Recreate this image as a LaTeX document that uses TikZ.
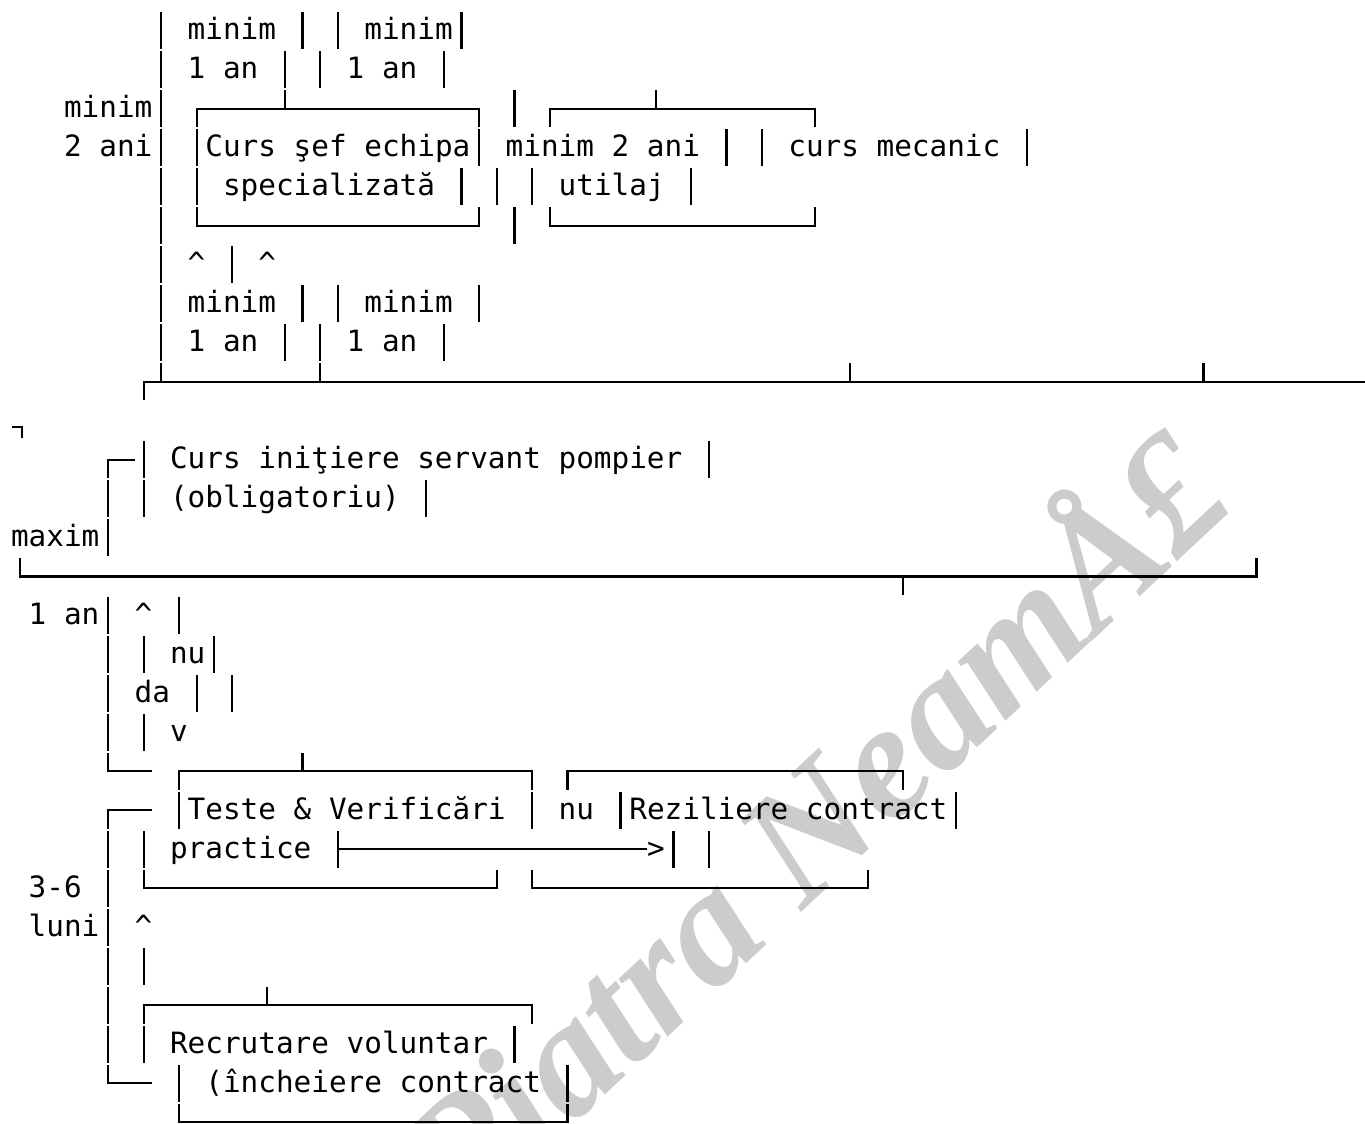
\documentclass[tikz,border=0pt]{standalone}
\usepackage{fontspec}
\newfontfamily\mono{DejaVu Sans Mono}
\newfontfamily\marca{Liberation Serif}

\tikzset{
  linea/.style={line width=1.05pt},
  txt/.style={anchor=base west, inner sep=0pt, outer sep=0pt,
    font=\mono\fontsize{14.67pt}{17pt}\selectfont},
}
\newcommand{\bh}{0.47}

\begin{document}
\begin{tikzpicture}[x=8.8325pt, y=-19.49pt]
    % Marco de la imagen (columnas y filas de texto)
    \useasboundingbox (-1.1265,-0.79) rectangle (76.145,28.045);
    \clip (-1.1265,-0.79) rectangle (76.145,28.045);

    % Marca de agua
    \node[rotate=43, anchor=base west, inner sep=0pt, text=black!20,
        font=\marca\bfseries\itshape\fontsize{82.5pt}{88pt}\selectfont]
        (marca) at (25.12,30.69) {Piatra NeamÅ£};

    % Barras verticales
    \foreach \x/\y in {8/0,16/0,18/0,25/0, 8/1,15/1,17/1,24/1, 8/2,28/2,
        8/3,10/3,26/3,40/3,42/3,57/3, 8/4,10/4,25/4,27/4,29/4,38/4,
        8/5,28/5, 8/6,12/6, 8/7,16/7,18/7,26/7, 8/8,15/8,17/8,24/8,
        7/11,39/11, 5/12,7/12,23/12, 5/13, 5/15,9/15, 5/16,7/16,11/16,
        5/17,10/17,12/17, 5/18,7/18, 9/20,29/20,34/20,53/20,
        5/21,7/21,37/21,39/21, 5/22, 5/23, 5/24,7/24, 5/25,
        5/26,7/26,28/26, 9/27,31/27}
        \draw[linea] (\x,\y-\bh) -- (\x,\y+\bh);

    % Cajas de arriba
    \draw[linea] (10,2+\bh) -- (10,2) -- (26,2) -- (26,2+\bh);
    \draw[linea] (15,2) -- (15,2-\bh);
    \draw[linea] (10,5-\bh) -- (10,5) -- (26,5) -- (26,5-\bh);
    \draw[linea] (30,2+\bh) -- (30,2) -- (45,2) -- (45,2+\bh);
    \draw[linea] (36,2) -- (36,2-\bh);
    \draw[linea] (30,5-\bh) -- (30,5) -- (45,5) -- (45,5-\bh);

    % Linea larga de la fila 9
    \draw[linea] (7,9+\bh) -- (7,9) -- (76.2,9);
    \foreach \x in {8,17,47,67}
        \draw[linea] (\x,9) -- (\x,9-\bh);
    \draw[linea] (-0.46,10.16) -- (0.10,10.16) -- (0.10,10.45);
    \draw[linea] (5,11+\bh) -- (5,11) -- (6.5,11);

    % Linea larga de la fila 14
    \draw[linea] (0,14-\bh) -- (0,14) -- (70,14) -- (70,14-\bh);
    \draw[linea] (50,14) -- (50,14+\bh);

    % Cajas de pruebas y rescision
    \draw[linea] (5,19-\bh) -- (5,19) -- (7.5,19);
    \draw[linea] (9,19+\bh) -- (9,19) -- (29,19) -- (29,19+\bh);
    \draw[linea] (16,19) -- (16,19-\bh);
    \draw[linea] (31,19+\bh) -- (31,19) -- (50,19) -- (50,19+\bh);
    \draw[linea] (5,20+\bh) -- (5,20) -- (7.5,20);
    \draw[linea] (7,22-\bh) -- (7,22) -- (27,22) -- (27,22-\bh);
    \draw[linea] (29,22-\bh) -- (29,22) -- (48,22) -- (48,22-\bh);

    % Caja de reclutamiento
    \draw[linea] (7,25+\bh) -- (7,25) -- (29,25) -- (29,25+\bh);
    \draw[linea] (14,25) -- (14,25-\bh);
    \draw[linea] (5,27-\bh) -- (5,27) -- (7.5,27);
    \draw[linea] (9,28-\bh) -- (9,28) -- (31,28) -- (31,28-\bh);

    % Textos
    \node[txt] (min1) at (9.5,0.23) {minim};
    \node[txt] (min2) at (19.5,0.23) {minim};
    \node[txt] (an1) at (9.5,1.23) {1 an};
    \node[txt] (an2) at (18.5,1.23) {1 an};
    \node[txt] (min3) at (2.5,2.23) {minim};
    \node[txt] (ani3) at (2.5,3.23) {2 ani};
    \node[txt] (sef) at (10.5,3.23) {Curs şef echipa};
    \node[txt] (min4) at (27.5,3.23) {minim 2 ani};
    \node[txt] (mec) at (43.5,3.23) {curs mecanic};
    \node[txt] (spec) at (11.5,4.23) {specializată};
    \node[txt] (util) at (30.5,4.23) {utilaj};
    \node[txt] (sus1) at (9.5,6.23) {\textasciicircum};
    \node[txt] (sus2) at (13.5,6.23) {\textasciicircum};
    \node[txt] (min5) at (9.5,7.23) {minim};
    \node[txt] (min6) at (19.5,7.23) {minim};
    \node[txt] (an5) at (9.5,8.23) {1 an};
    \node[txt] (an6) at (18.5,8.23) {1 an};
    \node[txt] (init) at (8.5,11.23) {Curs iniţiere servant pompier};
    \node[txt] (oblig) at (8.5,12.23) {(obligatoriu)};
    \node[txt] (maxim) at (-0.5,13.23) {maxim};
    \node[txt] (an7) at (0.5,15.23) {1 an};
    \node[txt] (sus3) at (6.5,15.23) {\textasciicircum};
    \node[txt] (nu1) at (8.5,16.23) {nu};
    \node[txt] (da) at (6.5,17.23) {da};
    \node[txt] (jos) at (8.5,18.23) {v};
    \node[txt] (teste) at (9.5,20.23) {Teste \& Verificări};
    \node[txt] (nu2) at (30.5,20.23) {nu};
    \node[txt] (rez) at (34.5,20.23) {Reziliere contract};
    \node[txt] (prac) at (8.5,21.23) {practice};
    \node[txt] (flecha) at (35.5,21.23) {>};
    \node[txt] (luni36) at (0.5,22.23) {3-6};
    \node[txt] (luni) at (0.5,23.23) {luni};
    \node[txt] (sus4) at (6.5,23.23) {\textasciicircum};
    \node[txt] (recr) at (8.5,26.23) {Recrutare voluntar};
    \node[txt] (inch) at (10.5,27.23) {(încheiere contract};

    % Flecha de "practice" hacia la rescision
    \coordinate (tee) at (18,21);
    \draw[linea] (18,21-\bh) -- (18,21+\bh);
    \draw[linea] (tee) -- (tee -| flecha.west);
\end{tikzpicture}
\end{document}
